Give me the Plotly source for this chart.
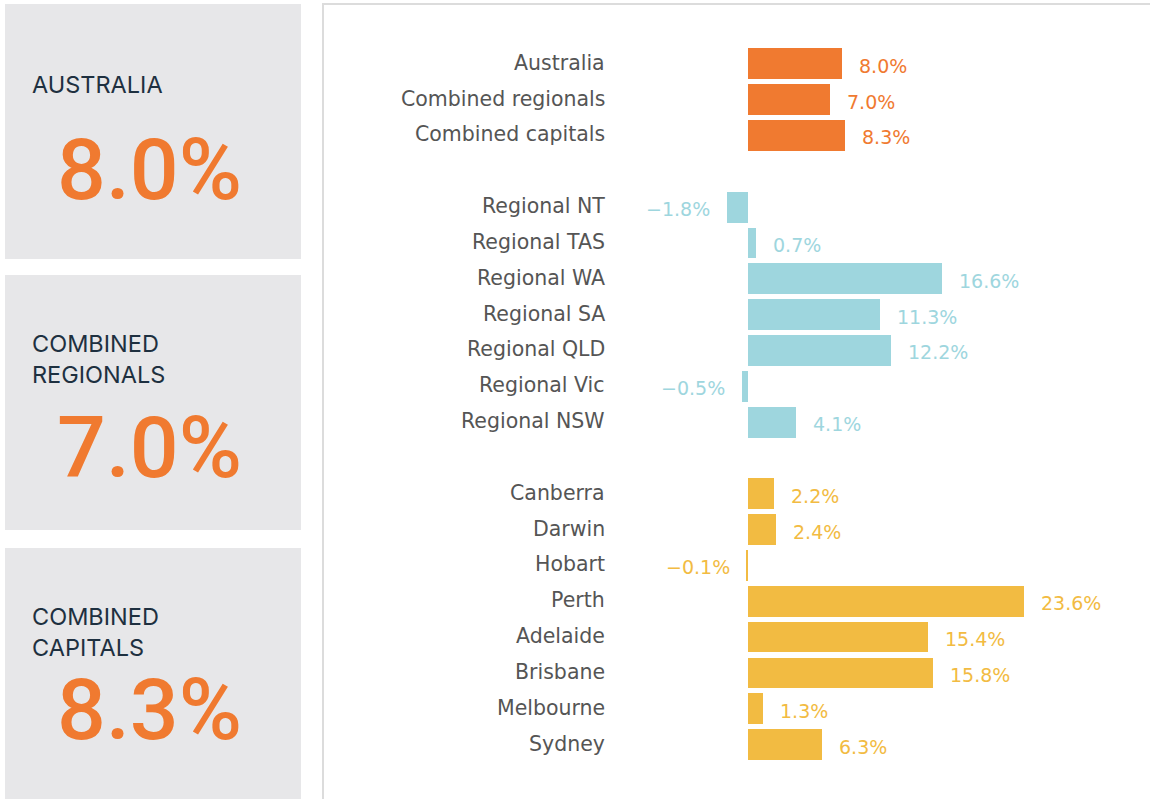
import plotly.graph_objects as go

# ---- data ----
categories = ["Australia", "Combined regionals", "Combined capitals", "",
              "Regional NT", "Regional TAS", "Regional WA", "Regional SA",
              "Regional QLD", "Regional Vic", "Regional NSW", "",
              "Canberra", "Darwin", "Hobart", "Perth", "Adelaide",
              "Brisbane", "Melbourne", "Sydney"]
values = [8.0, 7.0, 8.3, None,
          -1.8, 0.7, 16.6, 11.3, 12.2, -0.5, 4.1, None,
          2.2, 2.4, -0.1, 23.6, 15.4, 15.8, 1.3, 6.3]
groups = ["summary"] * 3 + [None] + ["regional"] * 7 + [None] + ["capital"] * 8

panel_titles = ["AUSTRALIA", "COMBINED<br>REGIONALS", "COMBINED<br>CAPITALS"]
panel_values = ["8.0%", "7.0%", "8.3%"]

# ---- style ----
W, H = 1150, 799
group_colors = {"summary": "#F07A30", "regional": "#9ED6DE", "capital": "#F2BB42"}
LABEL_FONT = "DejaVu Sans"
PANEL_FONT = "Inter"
BIG_FONT = "Roboto"

x0_px, px_per_unit = 748.0, 11.7
row0_px, row_px = 63.8, 35.83

def px_x(p):
    return p / W

def px_y(p):
    return 1 - p / H

fig = go.Figure()
bx, by, bc = [], [], []
for i, (v, g) in enumerate(zip(values, groups)):
    if v is None:
        continue
    bx.append(v)
    by.append(i)
    bc.append(group_colors[g])
fig.add_trace(go.Bar(x=bx, y=by, orientation="h", width=0.86,
                     marker=dict(color=bc, line=dict(width=0)),
                     hoverinfo="skip", showlegend=False))

annotations = []
for i, (c, v, g) in enumerate(zip(categories, values, groups)):
    if v is None:
        continue
    annotations.append(dict(x=px_x(607), xref="paper", y=i, yref="y",
                            text=c, showarrow=False, xanchor="right",
                            yanchor="middle", yshift=1,
                            font=dict(family=LABEL_FONT, size=20.5, color="#555555")))
    annotations.append(dict(x=v, xref="x", y=i, yref="y",
                            text=f"{v:.1f}%".replace("-", "−"), showarrow=False,
                            xanchor="left" if v >= 0 else "right",
                            xshift=15 if v >= 0 else -15, yshift=-2,
                            yanchor="middle",
                            font=dict(family=LABEL_FONT, size=19, color=group_colors[g])))

shapes = []
# left grey panels
panel_boxes = [(4, 259), (275, 530), (548, 805)]
for (t, b) in panel_boxes:
    shapes.append(dict(type="rect", xref="paper", yref="paper",
                       x0=px_x(5), x1=px_x(301), y0=px_y(b), y1=px_y(t),
                       fillcolor="#E7E7E9", line=dict(width=0), layer="below"))
# right panel border
shapes.append(dict(type="rect", xref="paper", yref="paper",
                   x0=px_x(323), x1=px_x(1160), y0=px_y(810), y1=px_y(4),
                   fillcolor="rgba(0,0,0,0)", line=dict(color="#DCDCDC", width=2),
                   layer="below"))

title_pos = [84, 359, 632]
value_pos = [169, 447, 709]
for t, v, ty, vy in zip(panel_titles, panel_values, title_pos, value_pos):
    annotations.append(dict(x=px_x(29.5), y=px_y(ty), xref="paper", yref="paper",
                            text=t, showarrow=False, xanchor="left", yanchor="middle",
                            align="left",
                            font=dict(family=PANEL_FONT, size=23.5, color="#1E3040")))
    annotations.append(dict(x=px_x(149), y=px_y(vy), xref="paper", yref="paper",
                            text=v, showarrow=False, xanchor="center", yanchor="middle",
                            font=dict(family=BIG_FONT, size=86, weight=500,
                                      color="#F07A30")))

fig.update_layout(
    width=W, height=H,
    margin=dict(l=0, r=0, t=0, b=0),
    paper_bgcolor="white", plot_bgcolor="rgba(0,0,0,0)",
    xaxis=dict(range=[-x0_px / px_per_unit, (W - x0_px) / px_per_unit],
               domain=[0, 1], visible=False, fixedrange=True),
    yaxis=dict(range=[(H - row0_px) / row_px, -row0_px / row_px],
               domain=[0, 1], visible=False, fixedrange=True),
    shapes=shapes, annotations=annotations,
    bargap=0,
)

fig.write_html("out.html", config={"displayModeBar": False},
               post_script="document.body.style.margin='0';")
